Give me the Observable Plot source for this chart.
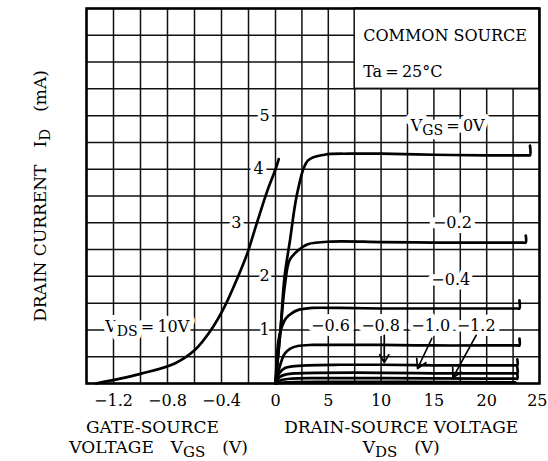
<!DOCTYPE html>
<html><head><meta charset="utf-8">
<script src="https://cdn.jsdelivr.net/npm/d3@7"></script>
<script src="https://cdn.jsdelivr.net/npm/@observablehq/plot@0.6"></script>
<style>
body{margin:0;background:#fff}
svg{display:block}
svg text{paint-order:stroke}
</style>
</head><body><div id="chart"></div>
<script>
// ---- data ----
// transfer characteristic, VDS = 10 V
const transferVGS = [-1.33, -1.15, -1.0, -0.75, -0.6, -0.48, -0.38, -0.28, -0.21, -0.14, -0.06, 0.0, 0.024];
const transferID  = [0, 0.09, 0.18, 0.37, 0.62, 0.99, 1.42, 1.98, 2.42, 2.98, 3.6, 4.0, 4.19];

// output characteristics (VDS in V, ID in mA)
const vdsG00 = [0, 0.47, 0.85, 1.37, 2.11, 3.06, 4.64, 7, 10, 15, 20, 23.9, 24.1, 24.1];
const idG00  = [0, 0.99, 1.98, 2.67, 3.6, 4.16, 4.27, 4.29, 4.29, 4.27, 4.26, 4.26, 4.26, 4.44];
const vdsG02 = [0, 0.45, 0.9, 1.33, 2.11, 3.06, 5.3, 10, 15, 20, 23.5, 23.7, 23.7];
const idG02  = [0, 0.95, 1.85, 2.3, 2.48, 2.6, 2.65, 2.64, 2.63, 2.63, 2.63, 2.63, 2.76];
const vdsG04 = [0, 0.28, 0.57, 1.0, 1.52, 2.1, 3.5, 6, 10, 15, 20, 22.9, 23.1, 23.1];
const idG04  = [0, 0.8, 1.04, 1.22, 1.31, 1.37, 1.41, 1.41, 1.40, 1.40, 1.40, 1.40, 1.40, 1.55];
const vdsG06 = [0, 0.38, 0.85, 1.4, 2.1, 3.5, 6, 10, 15, 20, 22.9, 23.1, 23.1];
const idG06  = [0, 0.3, 0.55, 0.65, 0.7, 0.72, 0.72, 0.72, 0.71, 0.71, 0.71, 0.71, 0.84];
const vdsG08 = [0, 0.4, 0.9, 1.6, 3, 6, 10, 15, 20, 22.7, 22.9, 22.9];
const idG08  = [0, 0.2, 0.29, 0.32, 0.34, 0.35, 0.35, 0.34, 0.34, 0.34, 0.34, 0.45];
const vdsG10 = [0, 0.4, 1.0, 2, 4, 10, 15, 20, 22.7, 22.9, 22.9];
const idG10  = [0, 0.12, 0.17, 0.19, 0.2, 0.2, 0.19, 0.19, 0.19, 0.19, 0.3];
const vdsG12 = [0, 0.5, 1.5, 4, 10, 20, 22.7, 22.9, 22.9];
const idG12  = [0, 0.06, 0.09, 0.1, 0.1, 0.09, 0.09, 0.09, 0.17];
const vdsG14 = [0, 1, 5, 12, 22.7];
const idG14  = [0, 0.02, 0.03, 0.03, 0.02];

// tick labels
const vgsTicks = [-1.2, -0.8, -0.4];
const vdsTicks = [0, 5, 10, 15, 20];
const vdsLastTick = 25;
const idTicks  = [1, 2, 3, 4, 5];

// ---- shared horizontal position: left half in VGS, right half in VDS ----
// one grid cell = 0.2 V (VGS, 27 units wide) or 2.5 V (VDS, 26.4 units wide)
const CELL_G = 0.2, CELL_D = 2.5, WG = 27, WD = 26.4;
const pg = v => v / CELL_G * WG;
const pd = v => v / CELL_D * WD;

const outputSeries = [
  ["0", vdsG00, idG00], ["-0.2", vdsG02, idG02], ["-0.4", vdsG04, idG04],
  ["-0.6", vdsG06, idG06], ["-0.8", vdsG08, idG08], ["-1.0", vdsG10, idG10],
  ["-1.2", vdsG12, idG12], ["-1.4", vdsG14, idG14]
];
const outRows = outputSeries.flatMap(([name, xs, ys]) => xs.map((v, i) => ({name, p: pd(v), id: ys[i]})));
const trRows = transferVGS.map((v, i) => ({p: pg(v), id: transferID[i]}));

// annotation placement (side "d" = VDS units, "g" = VGS units)
const notes = [
  {s: "d", x: 16.3, y: 4.8, t: "V_{GS}\u2009=\u20090V"},
  {s: "d", x: 16.75, y: 3.0, t: "−0.2"},
  {s: "d", x: 16.6, y: 1.94, t: "−0.4"},
  {s: "d", x: 5.2, y: 1.08, t: "−0.6"},
  {s: "d", x: 9.95, y: 1.08, t: "−0.8"},
  {s: "d", x: 14.7, y: 1.08, t: "−1.0"},
  {s: "d", x: 19.0, y: 1.08, t: "−1.2"},
  {s: "g", x: -0.95, y: 1.05, t: "V_{DS}\u2009=\u200910V"}
];
const arrows = [
  {x1: 10.3, y1: 0.9, x2: 10.3, y2: 0.39},
  {x1: 14.8, y1: 0.84, x2: 13.45, y2: 0.28},
  {x1: 19.0, y1: 0.9, x2: 16.8, y2: 0.11}
];
const idLabelX = {1: -0.08, 2: -0.08, 3: -0.29, 4: -0.126, 5: -0.08};
const np = n => n.s === "d" ? pd(n.x) : pg(n.x);

const FONT = "DejaVu Serif";
const GRID = "#111";
const gridP = [...d3.range(-7, 0).map(i => i * WG), ...d3.range(0, 11).map(i => i * WD)];
const tickP = [...vgsTicks.map(pg), ...vdsTicks.map(pd)];
const tickText = new Map(tickP.map((p, i) => [p, i < vgsTicks.length ? "−" + (-vgsTicks[i]).toFixed(1) : String(vdsTicks[i - vgsTicks.length])]));

const plot = Plot.plot({
  width: 548, height: 461,
  marginTop: 8, marginBottom: 78, marginLeft: 86, marginRight: 9,
  x: {domain: [pg(-1.4), pd(25)], axis: null},
  y: {domain: [0, 7], axis: null},
  style: {fontFamily: FONT, fontSize: "16px", color: "#000", background: "#fff"},
  marks: [
    Plot.ruleX(gridP, {stroke: GRID, strokeWidth: 1.5}),
    Plot.ruleY(d3.range(0, 7.01, 0.5), {stroke: GRID, strokeWidth: 1.5}),
    Plot.rect([{x1: pd(7.5), x2: pd(25), y1: 5.5, y2: 7}], {x1: "x1", x2: "x2", y1: "y1", y2: "y2", fill: "white", stroke: GRID, strokeWidth: 1.5}),
    Plot.text(idTicks, {x: d => pg(idLabelX[d]), y: d => d, text: d => String(d), fill: "black", stroke: "white", strokeWidth: 7, fontSize: 16}),
    Plot.text(notes, {x: np, y: "y", text: "t", fill: "black", stroke: "white", strokeWidth: 10, fontSize: 16}),
    Plot.line(outRows, {x: "p", y: "id", z: "name", stroke: "black", strokeWidth: 2.7, curve: "catmull-rom"}),
    Plot.line(trRows, {x: "p", y: "id", stroke: "black", strokeWidth: 2.7, curve: "catmull-rom"}),
    Plot.arrow(arrows, {x1: d => pd(d.x1), y1: "y1", x2: d => pd(d.x2), y2: "y2", stroke: "black", strokeWidth: 1.7, headLength: 9}),
    Plot.text(["COMMON SOURCE"], {x: pd(8.3), y: 6.48, textAnchor: "start", fill: "black", fontSize: 16}),
    Plot.text(["Ta\u2009=\u200925°C"], {x: pd(8.3), y: 5.82, textAnchor: "start", fill: "black", fontSize: 16}),
    Plot.axisX(tickP, {tickSize: 0, tickPadding: 11, fontSize: 16, tickFormat: p => tickText.get(p)}),
    Plot.axisX([pd(vdsLastTick)], {tickSize: 0, tickPadding: 11, fontSize: 16, textAnchor: "end", dx: 8, tickFormat: () => String(vdsLastTick)}),
    Plot.text(["GATE-SOURCE"], {x: pg(-0.912), y: -0.82, fill: "black", fontSize: 17}),
    Plot.text(["VOLTAGE\u2002\u2002V_{GS}\u2002\u2002(V)"], {x: pg(-0.866), y: -1.2, fill: "black", fontSize: 17}),
    Plot.text(["DRAIN-SOURCE VOLTAGE"], {x: pd(11.9), y: -0.82, fill: "black", fontSize: 17}),
    Plot.text(["V_{DS}\u2002\u2002(V)"], {x: pd(11.9), y: -1.2, fill: "black", fontSize: 17}),
    Plot.text(["DRAIN CURRENT\u2002\u2002I_{D}\u2002\u2002(mA)"], {frameAnchor: "left", dx: -46, rotate: -90, textAnchor: "middle", fill: "black", fontSize: 17}),
    Plot.frame({stroke: "black", strokeWidth: 2.5})
  ]
});

// subscripts as real tspans
const NS = "http://www.w3.org/2000/svg";
const SHIFT = 4;
d3.select(plot).selectAll("text").each(function () {
  const s = this.textContent;
  if (!s.includes("_{")) return;
  this.textContent = "";
  let shifted = false;
  const add = (str, sub) => {
    if (!str) return;
    const ts = document.createElementNS(NS, "tspan");
    ts.textContent = str;
    if (sub && !shifted) { ts.setAttribute("dy", SHIFT); shifted = true; }
    else if (!sub && shifted) { ts.setAttribute("dy", -SHIFT); shifted = false; }
    if (sub) ts.style.fontSize = "88%";
    this.appendChild(ts);
  };
  const re = /_\{([^}]*)\}/g;
  let last = 0, m;
  while ((m = re.exec(s))) {
    add(s.slice(last, m.index), false);
    add(m[1], true);
    last = re.lastIndex;
  }
  add(s.slice(last), false);
});

document.getElementById("chart").appendChild(plot);
</script>
</body></html>
